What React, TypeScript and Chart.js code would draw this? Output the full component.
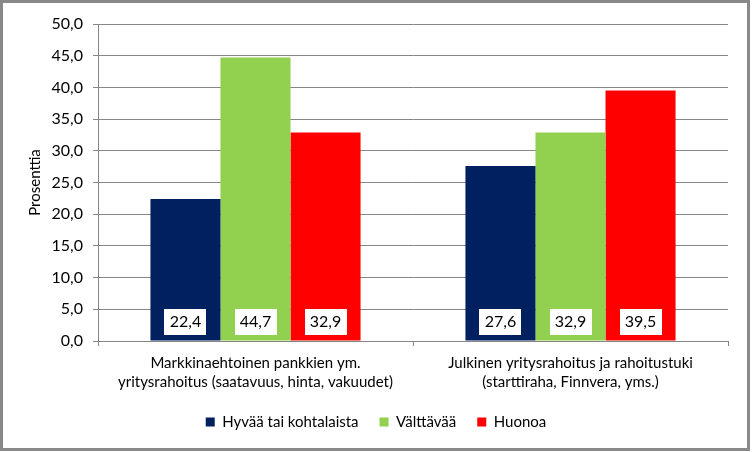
import React, { useEffect, useRef } from "react";
import { Chart, registerables } from "chart.js";

Chart.register(...registerables);

const categories: string[][] = [
  ["Markkinaehtoinen pankkien ym.", "yritysrahoitus (saatavuus, hinta, vakuudet)"],
  ["Julkinen yritysrahoitus ja rahoitustuki", "(starttiraha, Finnvera, yms.)"],
];
const seriesNames = ["Hyvää tai kohtalaista", "Välttävää", "Huonoa"];
const hyvaa = [22.4, 27.6];
const valttavaa = [44.7, 32.9];
const huonoa = [32.9, 39.5];
const seriesColors = ["#002060", "#92D050", "#FF0000"];
const yMin = 0;
const yMax = 50;
const yStep = 5;
const yTitle = "Prosenttia";

const FONT = "Lato";
const fmt = (v: number) => v.toFixed(1).replace(".", ",");

const valueBoxes = {
  id: "valueBoxes",
  afterDatasetsDraw(chart: any) {
    const ctx = chart.ctx;
    ctx.save();
    chart.data.datasets.forEach((ds: any, i: number) => {
      const meta = chart.getDatasetMeta(i);
      meta.data.forEach((el: any, j: number) => {
        const w = 42;
        const h = 26;
        const x = el.x;
        const base = el.base;
        ctx.fillStyle = "#ffffff";
        ctx.fillRect(Math.round(x - w / 2), Math.round(base - 6 - h), w, h);
        ctx.fillStyle = "#000000";
        ctx.font = `16px ${FONT}`;
        ctx.textAlign = "center";
        ctx.textBaseline = "middle";
        ctx.fillText(fmt(ds.data[j]), x, base - 6 - h / 2);
      });
    });
    ctx.restore();
  },
};

const frame = {
  id: "frame",
  afterDraw(chart: any) {
    const ctx = chart.ctx;
    ctx.save();
    ctx.strokeStyle = "#898989";
    ctx.lineWidth = 3;
    ctx.strokeRect(1.5, 1.5, 747, 448);
    ctx.restore();
  },
};

export default function App() {
  const ref = useRef<HTMLCanvasElement>(null);
  useEffect(() => {
    document.body.style.margin = "0";
    const chart = new Chart(ref.current!, {
      type: "bar",
      data: {
        labels: categories,
        datasets: [
          { label: seriesNames[0], data: hyvaa, backgroundColor: seriesColors[0] },
          { label: seriesNames[1], data: valttavaa, backgroundColor: seriesColors[1] },
          { label: seriesNames[2], data: huonoa, backgroundColor: seriesColors[2] },
        ],
      },
      options: {
        responsive: false,
        animation: false,
        datasets: { bar: { barPercentage: 1, categoryPercentage: 0.667 } },
        layout: { padding: { left: 24, right: 24, top: 24, bottom: 12.5 } },
        scales: {
          x: {
            afterFit: (s: any) => { s.height = 52.5; },
            grid: { drawOnChartArea: false, drawTicks: true, tickLength: 5, color: "#868686" },
            border: { color: "#868686" },
            ticks: { color: "#000", font: { family: FONT, size: 15, lineHeight: 1.3 }, padding: 7, maxRotation: 0, autoSkip: false },
          },
          y: {
            min: yMin,
            max: yMax,
            afterFit: (s: any) => { s.width = 74; },
            grid: { color: "#868686", tickLength: 5 },
            border: { color: "#868686" },
            ticks: {
              stepSize: yStep,
              color: "#000",
              padding: 10,
              font: { family: FONT, size: 16 },
              callback: (v: any) => fmt(Number(v)),
            },
            title: { display: true, text: yTitle, color: "#000", font: { family: FONT, size: 15 }, padding: { top: 2, bottom: 0 } },
          },
        },
        plugins: {
          legend: {
            position: "bottom",
            labels: { color: "#000", font: { family: FONT, size: 15 }, boxWidth: 9, boxHeight: 9, padding: 21 },
          },
          tooltip: { enabled: false },
        },
      },
      plugins: [valueBoxes, frame],
    });
    return () => chart.destroy();
  }, []);
  return (
    <div style={{ width: 752, height: 452 }}>
      <canvas ref={ref} width={752} height={452} />
    </div>
  );
}
